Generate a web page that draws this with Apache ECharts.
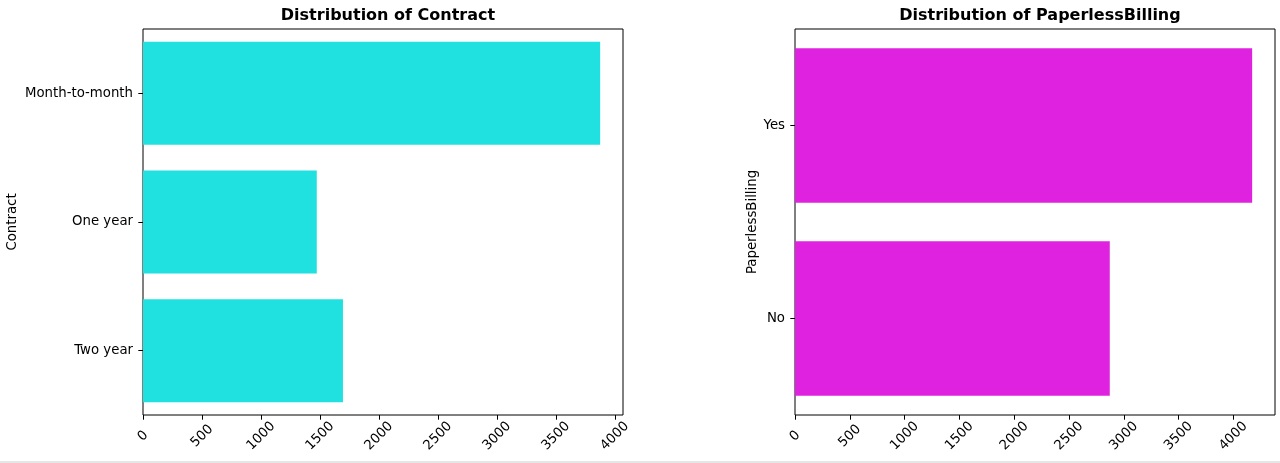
<!DOCTYPE html>
<html>
<head>
<meta charset="utf-8">
<script src="https://cdn.jsdelivr.net/npm/echarts@6/dist/echarts.min.js"></script>
<style>
  html, body { margin: 0; padding: 0; background: #ffffff; }
  #chart { width: 1280px; height: 461px; }
  #strip { width: 1280px; height: 2px; background: #e6e6e6; }
</style>
</head>
<body>
<div id="chart"></div>
<div id="strip"></div>
<script>
const contractCategories = ['Month-to-month', 'One year', 'Two year'];
const contractCounts = [3875, 1473, 1695];
const billingCategories = ['Yes', 'No'];
const billingCounts = [4171, 2872];
const xTickValues = [0, 500, 1000, 1500, 2000, 2500, 3000, 3500, 4000];
const titles = ['Distribution of Contract', 'Distribution of PaperlessBilling'];
const yNames = ['Contract', 'PaperlessBilling'];

const FONT = 'DejaVu Sans';
const chart = echarts.init(document.getElementById('chart'), null, { renderer: 'canvas' });

function xAxisFor(gridIndex) {
  return {
    type: 'value', gridIndex: gridIndex, min: 0,
    max: function (v) { return v.max * 1.05; },
    splitLine: { show: false },
    axisLine: { show: false },
    axisTick: { show: true, length: 4.7, lineStyle: { color: '#000', width: 1 }, customValues: xTickValues },
    axisLabel: {
      customValues: xTickValues, rotate: 45, align: 'center', verticalAlign: 'middle',
      margin: 21, color: '#000', fontFamily: FONT, fontSize: 13.3,
      formatter: function (v) { return String(v); }
    }
  };
}
function yAxisFor(gridIndex, cats, name, gap) {
  return {
    type: 'category', gridIndex: gridIndex, data: cats, inverse: true,
    name: name, nameLocation: 'middle', nameGap: gap,
    nameTextStyle: { color: '#000', fontFamily: FONT, fontSize: 13.3 },
    axisLine: { show: false },
    axisTick: { show: true, alignWithLabel: true, length: 4.7, lineStyle: { color: '#000', width: 1 } },
    axisLabel: { color: '#000', fontFamily: FONT, fontSize: 13.3, margin: 10 },
    splitLine: { show: false }
  };
}

chart.setOption({
  animation: false,
  backgroundColor: '#ffffff',
  title: [
    { text: titles[0], left: 383, top: 3, textAlign: 'center',
      textStyle: { fontFamily: FONT, fontSize: 16, fontWeight: 'bold', color: '#000' } },
    { text: titles[1], left: 1035, top: 3, textAlign: 'center',
      textStyle: { fontFamily: FONT, fontSize: 16, fontWeight: 'bold', color: '#000' } }
  ],
  grid: [
    { left: 143, top: 29, width: 480, height: 386, show: true, borderColor: '#000', borderWidth: 1, backgroundColor: 'transparent' },
    { left: 795, top: 29, width: 480, height: 386, show: true, borderColor: '#000', borderWidth: 1, backgroundColor: 'transparent' }
  ],
  xAxis: [xAxisFor(0), xAxisFor(1)],
  yAxis: [
    yAxisFor(0, contractCategories, yNames[0], 124),
    yAxisFor(1, billingCategories, yNames[1], 36)
  ],
  series: [
    { type: 'bar', xAxisIndex: 0, yAxisIndex: 0, data: contractCounts, barWidth: '80%',
      itemStyle: { color: '#20e0e0' } },
    { type: 'bar', xAxisIndex: 1, yAxisIndex: 1, data: billingCounts, barWidth: '80%',
      itemStyle: { color: '#df22df' } }
  ]
});
</script>
</body>
</html>
